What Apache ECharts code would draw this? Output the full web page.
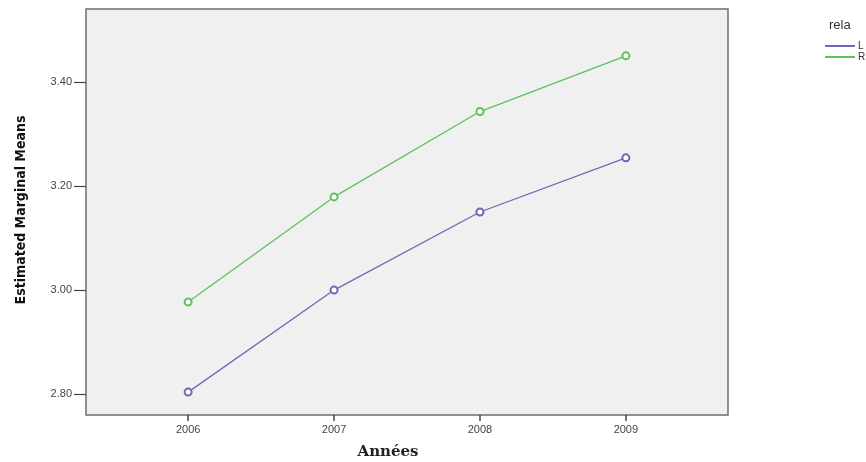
<!DOCTYPE html>
<html>
<head>
<meta charset="utf-8">
<script src="https://cdn.jsdelivr.net/npm/echarts@6/dist/echarts.min.js"></script>
<style>html,body{margin:0;padding:0;background:#fff}#c{width:866px;height:462px}</style>
</head>
<body>
<div id="c"></div>
<script>
const years = [2006, 2007, 2008, 2009];
const seriesL = [2.804, 3.000, 3.150, 3.254];
const seriesR = [2.977, 3.179, 3.343, 3.450];
const yTicks = [2.8, 3.0, 3.2, 3.4];
const seriesNames = ['L', 'R'];
const legendTitle = 'rela';
const xTitle = 'Années';
const yTitle = 'Estimated Marginal Means';

const chart = echarts.init(document.getElementById('c'));
const mk = (vals) => years.map((y, i) => [y, vals[i]]);
chart.setOption({
  animation: false,
  backgroundColor: '#ffffff',
  grid: {
    left: 86, right: 138, top: 9, bottom: 47,
    show: true, backgroundColor: '#f0f0f0', borderColor: '#6e6e6e', borderWidth: 1.5
  },
  xAxis: {
    type: 'value', min: 2005.3, max: 2009.7,
    axisLine: { show: false },
    splitLine: { show: false },
    axisTick: { show: true, customValues: years, length: 6, lineStyle: { color: '#444', width: 1.5 } },
    axisLabel: { customValues: years, formatter: v => String(v), color: '#444', fontSize: 11, margin: 9, fontFamily: 'Liberation Sans' }
  },
  yAxis: {
    type: 'value', min: 2.76, max: 3.54,
    axisLine: { show: false },
    splitLine: { show: false },
    axisTick: { show: true, customValues: yTicks, length: 12, lineStyle: { color: '#444', width: 1.2 } },
    axisLabel: { customValues: yTicks, formatter: v => v.toFixed(2), color: '#444', fontSize: 11, margin: 14, fontFamily: 'Liberation Sans' }
  },
  legend: {
    data: seriesNames,
    orient: 'vertical',
    left: 820, top: 36,
    itemWidth: 30, itemHeight: 2, itemGap: 1,
    icon: 'rect',
    textStyle: { fontSize: 10, color: '#333', fontFamily: 'Liberation Sans', padding: [0, 0, 0, -2] }
  },
  graphic: [
    { type: 'text', left: 829, top: 19, style: { text: legendTitle, fontSize: 13, fill: '#333', fontFamily: 'Liberation Sans' } },
    { type: 'text', x: 388, y: 452, style: { text: xTitle, fontSize: 15, fontWeight: 'bold', fill: '#222', fontFamily: 'DejaVu Serif', align: 'center', verticalAlign: 'middle' } },
    { type: 'text', x: 21, y: 210, rotation: Math.PI / 2, style: { text: yTitle, fontSize: 14, fontWeight: 'bold', fill: '#111', fontFamily: 'DejaVu Sans Condensed, sans-serif', align: 'center', verticalAlign: 'middle' } }
  ],
  series: [
    { name: seriesNames[0], type: 'line', data: mk(seriesL), color: '#6b6bb5',
      symbol: 'emptyCircle', symbolSize: 7, lineStyle: { width: 1.3 }, itemStyle: { borderWidth: 1 } },
    { name: seriesNames[1], type: 'line', data: mk(seriesR), color: '#5cc25c',
      symbol: 'emptyCircle', symbolSize: 7, lineStyle: { width: 1.3 }, itemStyle: { borderWidth: 1 } }
  ]
});
</script>
</body>
</html>
